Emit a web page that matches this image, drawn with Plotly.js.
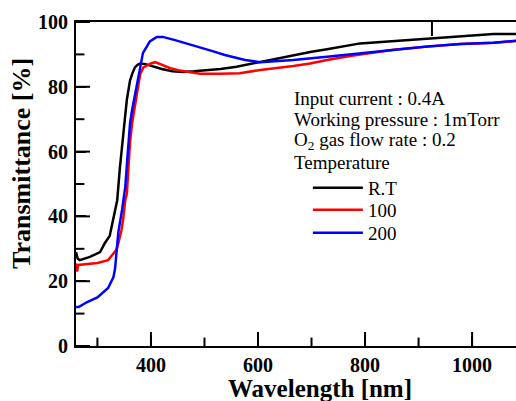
<!DOCTYPE html>
<html>
<head>
<meta charset="utf-8">
<script src="https://cdn.plot.ly/plotly-3.0.1.min.js"></script>
<style>html,body{margin:0;padding:0;background:#fff;}#chart{width:516px;height:401px;}</style>
</head>
<body>
<div id="chart"></div>
<script>
// R.T (room temperature)
const rtWavelength = [260,263,267,286,305,314,323,329,333,337,342,346,350,355,361,365,370,375,380,390,400,420,440,460,480,500,530,560,600,630,666,700,729,760,791,830,870,916,950,990,1040,1082];
const rtTrans      = [29,27,26.5,27.5,29,31.8,34,38.9,42,45,55,62.6,68,76,82,84,86,86.8,87.2,87,86.5,85.5,84.8,84.6,84.8,85,85.5,86.2,87.5,88.5,89.8,90.8,91.6,92.6,93.4,93.8,94.3,94.9,95.4,95.9,96.3,96.3];
// 100 °C
const t100Wavelength = [260,262,264,280,300,320,335,338,345,348,352,355,358,361,365,370,374,380,386,393,400,408,420,435,454,492,529,566,604,635,666,697,729,772,800,853,916,978,1040,1082];
const t100Trans      = [25.5,23,25,25.2,25.6,26.5,29.6,31,35.8,39,45,47,55,63,69,74,79,84,86,86.7,87.2,87.6,86.8,85.8,85,84,84,84.2,85.2,85.7,86.4,87.2,88.3,89.5,90.2,91.4,92.4,93.2,93.6,94.1];
// 200 °C
const t200Wavelength = [260,265,280,300,320,330,333,337,339,346,348,352,356,361,365,370,375,380,385,392,398,411,422,445,470,492,515,538,576,604,666,729,791,853,916,978,1040,1082];
const t200Trans      = [12,12,13.5,15,17.9,21.3,24,32,35,42,45,49,58,68.8,73,77,82,86,90.4,92.5,94,95.4,95.4,94.4,93.2,92.3,91,89.8,88.3,87.6,88.3,89.3,90.3,91.5,92.4,93.2,93.6,94.2];

const seriesNames = ["R.T","100","200"];
const infoLines = ["Input current : 0.4A","Working pressure : 1mTorr","O<sub>2</sub> gas flow rate : 0.2","Temperature"];
const xTickVals = [400,600,800,1000];
const xMinorVals = [300,500,700,900];
const xTopTickVals = [925];
const yTickVals = [0,20,40,60,80,100];
const yMinorVals = [10,30,50,70,90];
const xTitle = "Wavelength [nm]";
const yTitle = "Transmittance [%]";

const serif = "Liberation Serif, Times New Roman, serif";
const colors = ["#000000", "#ff0000", "#0000ff"];
const legendIds = ["legend", "legend2", "legend3"];
const xMin = 260, xMax = 1082, yMin = 0, yMax = 100;

const traces = [
  {x: rtWavelength, y: rtTrans},
  {x: t100Wavelength, y: t100Trans},
  {x: t200Wavelength, y: t200Trans}
].map((t, i) => Object.assign(t, {name: seriesNames[i], mode: "lines", legend: legendIds[i], line: {color: colors[i], width: 2.5}}));

// inside tick marks drawn as clipped line markers on the axes (half of each marker is clipped away)
function tickTrace(xs, ys, symbol, size) {
  return {x: xs, y: ys, mode: "markers", showlegend: false, hoverinfo: "skip", cliponaxis: true,
    marker: {symbol: symbol, size: size, color: "#000", line: {color: "#000", width: 2}}};
}
traces.push(tickTrace(xTickVals, xTickVals.map(() => yMin), "line-ns-open", 20));
traces.push(tickTrace(xMinorVals, xMinorVals.map(() => yMin), "line-ns-open", 12));
traces.push(tickTrace(xTopTickVals, xTopTickVals.map(() => yMax), "line-ns-open", 20));
traces.push(tickTrace(yTickVals.map(() => xMin), yTickVals, "line-ew-open", 20));
traces.push(tickTrace(yMinorVals.map(() => xMin), yMinorVals, "line-ew-open", 12));

const annYs = [0.765, 0.70, 0.633, 0.565];
const annotations = infoLines.map((t, i) => ({
  text: t, xref: "paper", yref: "paper", x: 0.49, y: annYs[i],
  xanchor: "left", yanchor: "middle", showarrow: false,
  font: {family: serif, size: 19, color: "#000"}
}));
annotations.push({text: xTitle, xref: "paper", yref: "paper", x: 0.5545, y: -0.13, xanchor: "center", yanchor: "middle", showarrow: false,
  font: {family: serif, size: 25, color: "#000", weight: "bold"}});
annotations.push({text: yTitle, xref: "paper", yref: "paper", x: -0.1227, y: 0.562, xanchor: "center", yanchor: "middle", textangle: -90, showarrow: false,
  font: {family: serif, size: 26, color: "#000", weight: "bold"}});

const legYs = [188, 210, 233];
const legendBase = {
  xanchor: "left", yanchor: "middle", bgcolor: "rgba(0,0,0,0)", borderwidth: 0,
  font: {family: serif, size: 19, color: "#000"}, itemwidth: 50
};
const legends = {};
legendIds.forEach((id, i) => {
  legends[id] = Object.assign({}, legendBase, {x: 0.527, y: (346 - legYs[i]) / 324});
});

const layout = Object.assign({
  width: 516, height: 401,
  margin: {l: 76, r: 0, t: 22, b: 55},
  paper_bgcolor: "#fff", plot_bgcolor: "#fff",
  showlegend: true,
  xaxis: {
    range: [xMin, xMax], showgrid: false, zeroline: false,
    showline: true, linecolor: "#000", linewidth: 2, mirror: true,
    ticks: "inside", ticklen: 10, tickwidth: 2, tickcolor: "#000",
    tickvals: xTickVals,
    tickfont: {family: serif, size: 20, color: "#000", weight: "bold"}
  },
  yaxis: {
    range: [yMin, yMax], showgrid: false, zeroline: false,
    showline: true, linecolor: "#000", linewidth: 2, mirror: false,
    ticks: "inside", ticklen: 10, tickwidth: 2, tickcolor: "#000",
    tickvals: yTickVals, ticklabelstandoff: 2,
    tickfont: {family: serif, size: 20, color: "#000", weight: "bold"}
  },
  annotations: annotations
}, legends);

Plotly.newPlot("chart", traces, layout, {displayModeBar: false, staticPlot: true});
</script>
</body>
</html>
